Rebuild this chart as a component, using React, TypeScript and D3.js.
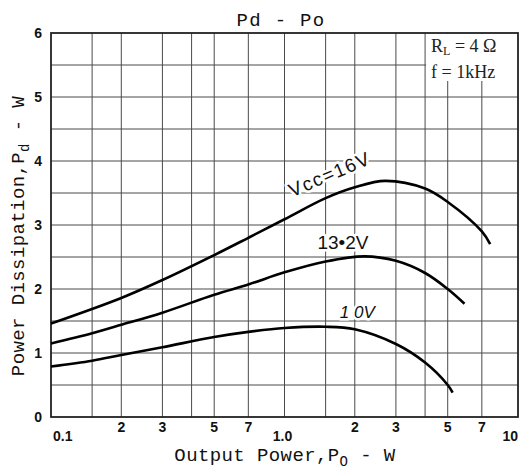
import React from 'react';
import * as d3 from 'd3';

const W = 519;
const H = 470;

// X axis (log) grid values and labels
const xGridValues = [0.15, 0.2, 0.3, 0.4, 0.5, 0.7, 1, 1.5, 2, 3, 4, 5, 7];
const minorTickValues = [0.2, 0.3, 0.5, 0.7, 2, 3, 5, 7];
const minorTickLabels = ['2', '3', '5', '7', '2', '3', '5', '7'];
const decadeTickValues = [0.1, 1, 10];
const decadeTickLabels = ['0.1', '1.0', '10'];

// Y axis
const yTickValues = [0, 1, 2, 3, 4, 5, 6];
const yGridValues = [0.5, 1, 1.5, 2, 2.5, 3, 3.5, 4, 4.5, 5, 5.5];

// Series: Vcc = 16V
const po16 = [0.1, 0.2, 0.3, 0.5, 0.7, 1, 1.5, 2, 2.7, 4, 5, 7, 7.6];
const pd16 = [1.46, 1.86, 2.14, 2.53, 2.8, 3.09, 3.42, 3.59, 3.69, 3.57, 3.36, 2.9, 2.7];
// Series: Vcc = 13.2V
const po132 = [0.1, 0.15, 0.2, 0.3, 0.5, 0.7, 1, 1.5, 2.2, 3, 4, 5, 5.9];
const pd132 = [1.15, 1.31, 1.44, 1.63, 1.91, 2.07, 2.26, 2.43, 2.51, 2.44, 2.25, 2.0, 1.77];
// Series: Vcc = 10V
const po10 = [0.1, 0.15, 0.2, 0.3, 0.5, 0.7, 1, 1.5, 2, 3, 4, 5, 5.25];
const pd10 = [0.79, 0.88, 0.97, 1.09, 1.25, 1.33, 1.39, 1.41, 1.37, 1.14, 0.85, 0.5, 0.38];

const x = d3.scaleLog().domain([0.1, 10]).range([51, 518]);
const y = d3.scaleLinear().domain([0, 6]).range([417, 33]);

const line = d3
  .line<[number, number]>()
  .x((d) => x(d[0]))
  .y((d) => y(d[1]))
  .curve(d3.curveCatmullRom.alpha(0.5));

const zip = (a: number[], b: number[]) => a.map((v, i) => [v, b[i]] as [number, number]);

const gridColor = '#4a4a4a';
const monoFont = '"Liberation Mono", "DejaVu Sans Mono", monospace';
const sansFont = '"Liberation Sans", Arial, sans-serif';
const serifFont = '"Liberation Serif", "DejaVu Serif", serif';

export default function App() {
  const left = x(0.1);
  const right = x(10);
  const top = y(6);
  const bottom = y(0);
  const halo = { stroke: '#fff', strokeWidth: 5, paintOrder: 'stroke' as const, strokeLinejoin: 'round' as const };
  return (
    <svg width={W} height={H} style={{ position: 'absolute', left: 0, top: 0, background: '#fff' }}>
      <rect x={0} y={0} width={W} height={H} fill="#fff" />
      {/* grid */}
      {xGridValues.map((v) => (
        <line key={'gx' + v} x1={x(v)} x2={x(v)} y1={top} y2={bottom} stroke={gridColor} strokeWidth={1} />
      ))}
      {yGridValues.map((v) => (
        <line key={'gy' + v} x1={left} x2={right} y1={y(v)} y2={y(v)} stroke={gridColor} strokeWidth={1} />
      ))}
      {/* legend box */}
      <rect x={x(4) + 1} y={top + 1} width={W - x(4)} height={y(5.25) - top - 1} fill="#fff" />
      <text x={x(4) + 6} y={y(5.71)} fontFamily={serifFont} fontSize={18} fill="#222">
        R<tspan fontSize={12} dy={3}>L</tspan>
        <tspan dy={-3}> = 4 Ω</tspan>
      </text>
      <text x={x(4) + 6} y={y(5.3)} fontFamily={serifFont} fontSize={18} fill="#222">
        f = 1kHz
      </text>
      {/* frame */}
      <rect x={left} y={top} width={right - left} height={bottom - top} fill="none" stroke="#222" strokeWidth={1.8} />
      {/* curves */}
      {[zip(po16, pd16), zip(po132, pd132), zip(po10, pd10)].map((s, i) => (
        <path key={'c' + i} d={line(s) || ''} fill="none" stroke="#000" strokeWidth={2.6} />
      ))}
      {/* curve labels */}
      <text
        transform={`translate(${x(1.6)},${y(3.7)}) rotate(-23)`}
        textAnchor="middle"
        fontFamily={sansFont}
        fontSize={19}
        letterSpacing={1.5}
        fill="#111"
        {...halo}
      >
        Vcc=16V
      </text>
      <text x={x(1.78)} y={y(2.63)} textAnchor="middle" fontFamily={sansFont} fontSize={19} fill="#111" {...halo}>
        13•2V
      </text>
      <text
        x={x(2.05)}
        y={y(1.55)}
        textAnchor="middle"
        fontFamily={sansFont}
        fontSize={17}
        fontStyle="italic"
        fill="#111"
        {...halo}
      >
        1 0V
      </text>
      {/* y tick labels */}
      {yTickValues.map((v) => (
        <text
          key={'yt' + v}
          x={left - 9}
          y={y(v)}
          dy="0.36em"
          textAnchor="end"
          fontFamily={sansFont}
          fontWeight="bold"
          fontSize={14}
          fill="#111"
        >
          {v}
        </text>
      ))}
      {/* x tick labels */}
      {minorTickValues.map((v, i) => (
        <text
          key={'xm' + i}
          x={x(v)}
          y={bottom + 15}
          textAnchor="middle"
          fontFamily={sansFont}
          fontWeight="bold"
          fontSize={14}
          fill="#111"
        >
          {minorTickLabels[i]}
        </text>
      ))}
      {decadeTickValues.map((v, i) => (
        <text
          key={'xd' + i}
          x={i === 0 ? x(v) + 2 : i === 2 ? W - 1 : x(v) - 2}
          y={bottom + 24}
          textAnchor={i === 0 ? 'start' : i === 2 ? 'end' : 'middle'}
          fontFamily={sansFont}
          fontWeight="bold"
          fontSize={14}
          fill="#111"
        >
          {decadeTickLabels[i]}
        </text>
      ))}
      {/* title */}
      <text x={281} y={26} textAnchor="middle" fontFamily={monoFont} fontSize={19} letterSpacing={1.3} fill="#111">
        Pd - Po
      </text>
      {/* x axis title */}
      <text x={285} y={461} textAnchor="middle" fontFamily={monoFont} fontSize={19} letterSpacing={0.4} fill="#111">
        Output Power,P<tspan fontSize={14} dy={5}>O</tspan>
        <tspan dy={-5}> - W</tspan>
      </text>
      {/* y axis title */}
      <text
        transform={`translate(24,236) rotate(-90)`}
        textAnchor="middle"
        fontFamily={monoFont}
        fontSize={19}
        letterSpacing={0.4}
        fill="#111"
      >
        Power Dissipation,P<tspan fontSize={14} dy={5}>d</tspan>
        <tspan dy={-5}> - W</tspan>
      </text>
    </svg>
  );
}
